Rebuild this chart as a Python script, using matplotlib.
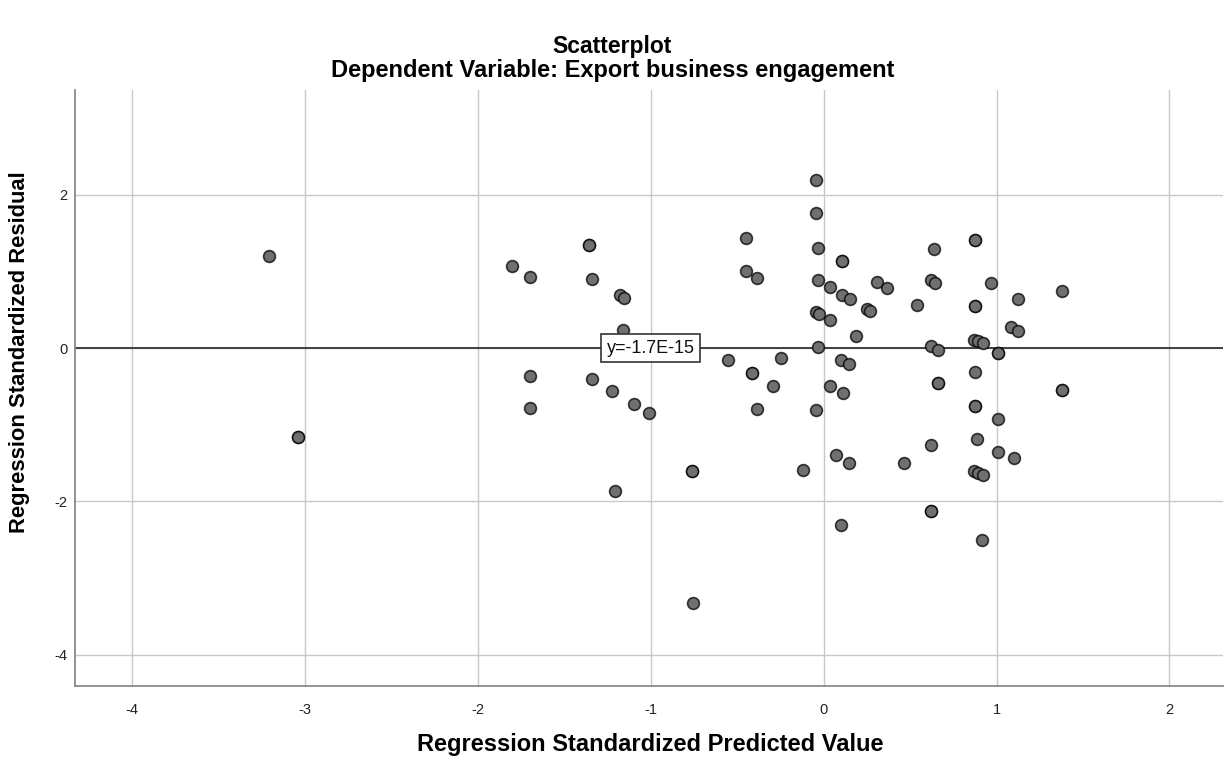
import matplotlib
matplotlib.use("Agg")
import matplotlib.pyplot as plt
import numpy as np

# Regression standardized predicted values (x) and residuals (y)
pred = [-3.208, -3.042, -3.042, -1.80, -1.70, -1.70, -1.70, -1.358, -1.358, -1.34,
        -1.34, -1.223, -1.208, -1.18, -1.156, -1.163, -1.094, -1.011, -0.76, -0.76,
        -0.754, -0.554, -0.451, -0.451, -0.413, -0.413, -0.384, -0.384, -0.291, -0.249,
        -0.117, -0.046, -0.046, -0.031, -0.031, -0.046, -0.027, -0.031, -0.046, 0.035,
        0.035, 0.035, 0.069, 0.098, 0.098, 0.108, 0.108, 0.108, 0.112, 0.147,
        0.147, 0.152, 0.185, 0.249, 0.268, 0.307, 0.365, 0.465, 0.542, 0.619,
        0.642, 0.619, 0.619, 0.619, 0.619, 0.638, 0.66, 0.66, 0.66, 0.876,
        0.876, 0.876, 0.876, 0.87, 0.893, 0.92, 0.876, 0.876, 0.876, 0.885,
        0.87, 0.893, 0.92, 0.918, 0.968, 1.011, 1.011, 1.011, 1.011, 1.10,
        1.127, 1.082, 1.124, 1.377, 1.377, 1.377]
resid = [1.205, -1.166, -1.166, 1.07, 0.93, -0.357, -0.787, 1.35, 1.35, 0.90,
         -0.40, -0.557, -1.87, 0.69, 0.65, 0.235, -0.731, -0.84, -1.60, -1.60,
         -3.33, -0.148, 1.44, 1.005, -0.33, -0.33, 0.918, -0.80, -0.496, -0.122,
         -1.593, 2.20, 1.77, 1.31, 0.888, 0.474, 0.444, 0.017, -0.81, 0.80,
         0.366, -0.496, -1.39, -0.148, -2.31, 1.136, 1.136, 0.70, -0.59, -0.209,
         -1.505, 0.645, 0.16, 0.505, 0.487, 0.866, 0.79, -1.497, 0.561, 0.888,
         0.853, 0.03, -1.27, -2.13, -2.13, 1.29, -0.03, -0.453, -0.453, 1.41,
         1.41, 0.548, 0.548, 0.113, 0.095, 0.061, -0.313, -0.753, -0.753, -1.184,
         -1.606, -1.636, -1.662, -2.50, 0.853, -0.061, -0.061, -0.927, -1.358, -1.44,
         0.645, 0.278, 0.218, 0.748, -0.544, -0.544]

fit_line_y = -1.7e-15
fit_label = "y=-1.7E-15"
x_ticks = [-4, -3, -2, -1, 0, 1, 2]
y_ticks = [-4, -2, 0, 2]

plt.rcParams['font.family'] = ['Liberation Sans', 'DejaVu Sans']

fig = plt.figure(figsize=(12.25, 7.67), dpi=100)
ax = fig.add_axes([75/1225, 1-686/767, (1223-75)/1225, (686-90)/767])

ax.set_xlim(-4.33, 2.31)
ax.set_ylim(-4.41, 3.37)
ax.set_xticks(x_ticks)
ax.set_yticks(y_ticks)
ax.set_xticklabels([str(t) for t in x_ticks])
ax.set_yticklabels([str(t) for t in y_ticks])
ax.grid(True, color='#c8c8c8', linewidth=1.0)
ax.set_axisbelow(True)
ax.tick_params(length=0, labelsize=10.5, colors='#222222')
ax.tick_params(axis='y', pad=5.5)
ax.tick_params(axis='x', pad=12)
for s in ['top', 'right']:
    ax.spines[s].set_visible(False)
for s in ['left', 'bottom']:
    ax.spines[s].set_color('#8a8a8a')
    ax.spines[s].set_linewidth(1.3)

ax.axhline(fit_line_y, color='#333333', linewidth=1.3, zorder=2)
ax.scatter(pred, resid, s=72, facecolor='#707070', edgecolor=(0, 0, 0, 0.75),
           linewidth=1.2, zorder=3)
ax.text(-1.0, fit_line_y, fit_label, ha='center', va='center', fontsize=13,
        color='#111111', zorder=4,
        bbox=dict(boxstyle='square,pad=0.3', facecolor='white', edgecolor='#333333', linewidth=1.2))

fig.text(0.5, 1-47/767, "Scatterplot", ha='center', va='center', fontsize=16.5, fontweight='bold')
fig.text(0.5, 1-70/767, "Dependent Variable: Export business engagement", ha='center', va='center',
         fontsize=17, fontweight='bold')
fig.text(650/1225, 1-744/767, "Regression Standardized Predicted Value", ha='center', va='center',
         fontsize=17, fontweight='bold')
fig.text(20/1225, 1-352/767, "Regression Standardized Residual", ha='center', va='center',
         rotation=90, fontsize=15.8, fontweight='bold')

fig.savefig("out.png", dpi=100)
